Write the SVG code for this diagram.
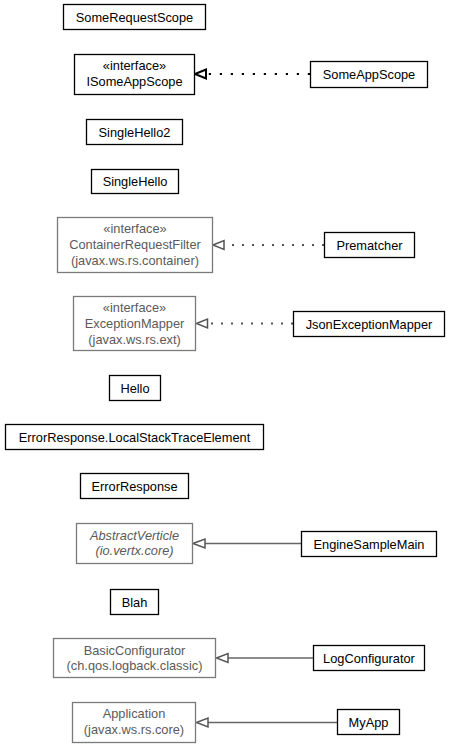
<svg xmlns="http://www.w3.org/2000/svg" width="451" height="748" viewBox="0 0 451 748">
<style>
.n{fill:#fff;stroke:#000;stroke-width:1.3}
.g{fill:#fff;stroke:#7a7a7a;stroke-width:1.3}
text{font-family:"Liberation Sans",Arial,sans-serif;font-size:12.8px;text-anchor:middle}
.t{fill:#000}
.gt{fill:#5a5a5a}
.i{font-style:italic}
.dk{stroke:#000;stroke-width:2.2;stroke-dasharray:2.2 8.8;fill:none}
.dg{stroke:#555;stroke-width:2;stroke-dasharray:2 8;fill:none}
.sg{stroke:#666;stroke-width:1.4;fill:none}
.hk{fill:#fff;stroke:#000;stroke-width:2}
.hg{fill:#fff;stroke:#555;stroke-width:1.5}
</style>
<rect width="451" height="748" fill="#fff"/>
<g id="connectors">
<line class="dk" x1="310" y1="74" x2="207" y2="74"/>
<polygon class="hk" points="195,74 206,69.5 206,78.5"/>
<line class="dg" x1="324" y1="245" x2="224" y2="245"/>
<polygon class="hg" points="213,245 224,240.5 224,249.5"/>
<line class="dg" x1="293" y1="323.5" x2="207" y2="323.5"/>
<polygon class="hg" points="196.5,323.5 207.5,319 207.5,328"/>
<line class="sg" x1="301" y1="543.5" x2="205" y2="543.5"/>
<polygon class="hg" points="193,543.5 205,539 205,548"/>
<line class="sg" x1="313" y1="658" x2="228" y2="658"/>
<polygon class="hg" points="216.5,658 228,653.5 228,662.5"/>
<line class="sg" x1="337" y1="722.5" x2="208" y2="722.5"/>
<polygon class="hg" points="196.5,722.5 208,718 208,727"/>
</g>
<g id="SomeRequestScope"><rect class="n" x="63.5" y="4.5" width="142" height="25"/><text class="t" x="134.5" y="21.5">SomeRequestScope</text></g>
<g id="ISomeAppScope"><rect class="n" x="74.5" y="54.5" width="120" height="40"/><text class="t" x="134.5" y="70">«interface»</text><text class="t" x="134.5" y="86">ISomeAppScope</text></g>
<g id="SomeAppScope"><rect class="n" x="310.5" y="61.5" width="117" height="26"/><text class="t" x="369" y="79">SomeAppScope</text></g>
<g id="SingleHello2"><rect class="n" x="86.5" y="119.5" width="96" height="25"/><text class="t" x="134.5" y="136.5">SingleHello2</text></g>
<g id="SingleHello"><rect class="n" x="91.5" y="169.5" width="87" height="24"/><text class="t" x="135" y="186">SingleHello</text></g>
<g id="ContainerRequestFilter"><rect class="g" x="57.5" y="217.5" width="155" height="55"/><text class="gt" x="135" y="233">«interface»</text><text class="gt" x="135" y="249">ContainerRequestFilter</text><text class="gt" x="135" y="265">(javax.ws.rs.container)</text></g>
<g id="Prematcher"><rect class="n" x="324.5" y="232.5" width="90" height="25"/><text class="t" x="369.5" y="249.5">Prematcher</text></g>
<g id="ExceptionMapper"><rect class="g" x="73.5" y="296.5" width="122" height="54"/><text class="gt" x="134.5" y="312">«interface»</text><text class="gt" x="134.5" y="328">ExceptionMapper</text><text class="gt" x="134.5" y="344">(javax.ws.rs.ext)</text></g>
<g id="JsonExceptionMapper"><rect class="n" x="293.5" y="311.5" width="151" height="25"/><text class="t" x="369" y="328.5">JsonExceptionMapper</text></g>
<g id="Hello"><rect class="n" x="109.5" y="375.5" width="51" height="25"/><text class="t" x="135" y="392.5">Hello</text></g>
<g id="ErrorResponse.LocalStackTraceElement"><rect class="n" x="5.5" y="424.5" width="258" height="25"/><text class="t" x="134.5" y="441.5">ErrorResponse.LocalStackTraceElement</text></g>
<g id="ErrorResponse"><rect class="n" x="80.5" y="473.5" width="108" height="25"/><text class="t" x="134.5" y="490.5">ErrorResponse</text></g>
<g id="AbstractVerticle"><rect class="g" x="76.5" y="523.5" width="116" height="40"/><text class="gt i" x="134.5" y="539.5">AbstractVerticle</text><text class="gt i" x="134.5" y="555">(io.vertx.core)</text></g>
<g id="EngineSampleMain"><rect class="n" x="301.5" y="531.5" width="135" height="25"/><text class="t" x="369" y="548.5">EngineSampleMain</text></g>
<g id="Blah"><rect class="n" x="110.5" y="589.5" width="48" height="25"/><text class="t" x="134.5" y="606.5">Blah</text></g>
<g id="BasicConfigurator"><rect class="g" x="53.5" y="638.5" width="162" height="39"/><text class="gt" x="134.5" y="654.5">BasicConfigurator</text><text class="gt" x="134.5" y="670">(ch.qos.logback.classic)</text></g>
<g id="LogConfigurator"><rect class="n" x="313.5" y="645.5" width="111" height="25"/><text class="t" x="369" y="662.5">LogConfigurator</text></g>
<g id="Application"><rect class="g" x="72.5" y="702.5" width="123" height="40"/><text class="gt" x="134" y="718">Application</text><text class="gt" x="134" y="734">(javax.ws.rs.core)</text></g>
<g id="MyApp"><rect class="n" x="337.5" y="709.5" width="62" height="25"/><text class="t" x="368.5" y="726.5">MyApp</text></g>
</svg>
